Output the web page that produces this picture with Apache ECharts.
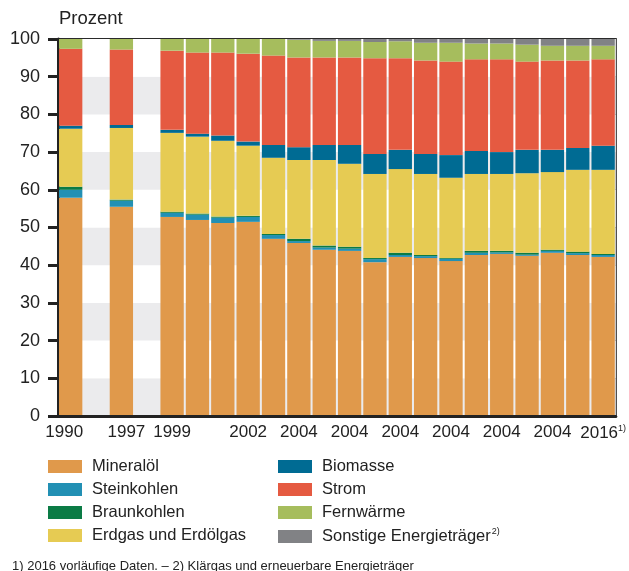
<!DOCTYPE html>
<html>
<head>
<meta charset="utf-8">
<script src="https://cdn.jsdelivr.net/npm/echarts@6/dist/echarts.min.js"></script>
<style>
  html, body { margin: 0; padding: 0; background: #fff; }
  #chart { width: 629px; height: 571px; }
</style>
</head>
<body>
<div id="chart"></div>
<script>
// category slots, g1/g2 are the empty gaps between 1990, 1997 and 1999
const categories = ['1990', 'g1', '1997', 'g2', '1999', '2000', '2001', '2002', '2003', '2004', '2005',
  '2006', '2007', '2008', '2009', '2010', '2011', '2012', '2013', '2014', '2015', '2016'];
// labels as printed under the axis
const tickLabels = ['1990', '', '1997', '', '1999', '', '', '2002', '', '2004', '', '2004', '', '2004',
  '', '2004', '', '2004', '', '2004', '', '2016'];
const yTicks = [0, 10, 20, 30, 40, 50, 60, 70, 80, 90, 100];

const mineraloel  = [57.9, '-', 55.5, '-', 52.8, 52.0, 51.2, 51.5, 47.0, 45.9, 44.1, 43.8, 40.8, 42.2, 41.9, 41.1, 42.7, 43.0, 42.5, 43.3, 42.7, 42.2];
const steinkohlen = [2.1, '-', 1.6, '-', 1.1, 1.4, 1.4, 1.3, 1.0, 0.5, 0.6, 0.6, 0.8, 0.5, 0.5, 0.6, 0.6, 0.4, 0.3, 0.5, 0.5, 0.5];
const braunkohlen = [0.8, '-', 0.3, '-', 0.3, 0.3, 0.3, 0.3, 0.3, 0.6, 0.5, 0.5, 0.3, 0.6, 0.3, 0.2, 0.5, 0.4, 0.5, 0.3, 0.4, 0.3];
const erdgas      = [15.4, '-', 19.0, '-', 20.9, 20.4, 20.1, 18.6, 20.2, 20.9, 22.7, 22.0, 22.3, 22.2, 21.5, 21.3, 20.4, 20.4, 21.1, 20.6, 21.7, 22.3];
const biomasse    = [0.8, '-', 0.8, '-', 0.8, 0.8, 1.4, 1.1, 3.4, 3.4, 4.0, 5.0, 5.3, 5.1, 5.3, 6.0, 6.1, 5.8, 6.2, 5.9, 5.8, 6.4];
const strom       = [20.4, '-', 20.0, '-', 21.0, 21.5, 22.0, 23.3, 23.7, 23.8, 23.2, 23.2, 25.4, 24.3, 24.8, 24.8, 24.3, 24.6, 23.4, 23.7, 23.2, 22.9];
const fernwaerme  = [2.6, '-', 2.8, '-', 3.1, 3.6, 3.6, 3.9, 4.4, 4.7, 4.4, 4.4, 4.3, 4.5, 4.7, 5.0, 4.2, 4.2, 4.5, 3.9, 3.9, 3.6];
const sonstige    = ['-', '-', '-', '-', '-', '-', '-', '-', '-', 0.2, 0.5, 0.5, 0.8, 0.6, 1.0, 1.0, 1.2, 1.2, 1.5, 1.8, 1.8, 1.8];

const seriesDefs = [
  { name: 'Mineralöl', data: mineraloel, color: '#e0994b' },
  { name: 'Steinkohlen', data: steinkohlen, color: '#2290b4' },
  { name: 'Braunkohlen', data: braunkohlen, color: '#0b7b45' },
  { name: 'Erdgas und Erdölgas', data: erdgas, color: '#e6cb53' },
  { name: 'Biomasse', data: biomasse, color: '#006b93' },
  { name: 'Strom', data: strom, color: '#e55a41' },
  { name: 'Fernwärme', data: fernwaerme, color: '#a6bd5d' },
  { name: 'Sonstige Energieträger', data: sonstige, color: '#818285' }
];

const font = 'Liberation Sans, Arial, sans-serif';
const chart = echarts.init(document.getElementById('chart'));

const legendBase = {
  orient: 'vertical',
  top: 458,
  padding: 0,
  itemWidth: 34,
  itemHeight: 13,
  itemGap: 6,
  icon: 'rect',
  selectedMode: false,
  textStyle: {
    fontFamily: font, fontSize: 16.5, color: '#222', padding: [0, 0, 0, 5],
    rich: {
      t: { fontFamily: font, fontSize: 16.5, color: '#222' },
      s: { fontFamily: font, fontSize: 9, color: '#222', padding: [0, 0, 10, 1] }
    }
  },
  formatter: name => name === 'Sonstige Energieträger' ? '{t|' + name + '}{s|2)}' : name
};

// small hand-placed offsets of the first two year labels, as in the print
function xLabel(v, i) {
  const t = tickLabels[i];
  if (t === '2016') return '{t|2016}{s|1)}';
  if (t === '1990') return '{l|1990}';
  if (t === '1997') return '{r|1997}';
  return t;
}

chart.setOption({
  animation: false,
  textStyle: { fontFamily: font },
  title: {
    text: 'Prozent',
    left: 59,
    top: 9,
    padding: [0, 0, 0, 0],
    textStyle: { fontFamily: font, fontSize: 18.5, fontWeight: 'normal', color: '#222' }
  },
  legend: [
    Object.assign({}, legendBase, { left: 48, data: seriesDefs.slice(0, 4).map(s => s.name) }),
    Object.assign({}, legendBase, { left: 278, data: seriesDefs.slice(4).map(s => s.name) })
  ],
  graphic: [{
    type: 'text',
    left: 12,
    top: 560,
    style: {
      text: '1) 2016 vorläufige Daten. – 2) Klärgas und erneuerbare Energieträger',
      fontFamily: font, fontSize: 13, fill: '#222'
    }
  }],
  grid: {
    left: 58, right: 11, top: 39, bottom: 155,
    show: true, borderColor: '#2a2a2a', borderWidth: 2, backgroundColor: 'transparent'
  },
  xAxis: {
    type: 'category',
    data: categories,
    z: 5,
    axisTick: { show: false },
    axisLine: { lineStyle: { color: '#222', width: 3 } },
    axisLabel: {
      interval: 0,
      margin: 8,
      fontSize: 17,
      color: '#222',
      formatter: xLabel,
      rich: {
        t: { fontFamily: font, fontSize: 17, color: '#222' },
        s: { fontFamily: font, fontSize: 9, color: '#222', padding: [0, 0, 10, 0] },
        l: { fontFamily: font, fontSize: 17, color: '#222', padding: [0, 13, 0, 0] },
        r: { fontFamily: font, fontSize: 17, color: '#222', padding: [0, 0, 0, 10] }
      }
    }
  },
  yAxis: {
    type: 'value',
    min: yTicks[0],
    max: yTicks[yTicks.length - 1],
    interval: 10,
    axisLine: { show: true, lineStyle: { color: '#222', width: 3 } },
    axisTick: { show: true, length: 10, lineStyle: { color: '#222', width: 3 } },
    axisLabel: { margin: 18, fontSize: 18, color: '#222' },
    splitLine: { show: false },
    splitArea: { show: true, areaStyle: { color: ['#ebebed', '#ffffff'] } }
  },
  series: seriesDefs.map(s => ({
    name: s.name,
    type: 'bar',
    stack: 'total',
    barCategoryGap: '8%',
    data: s.data,
    itemStyle: { color: s.color }
  }))
});
</script>
</body>
</html>
